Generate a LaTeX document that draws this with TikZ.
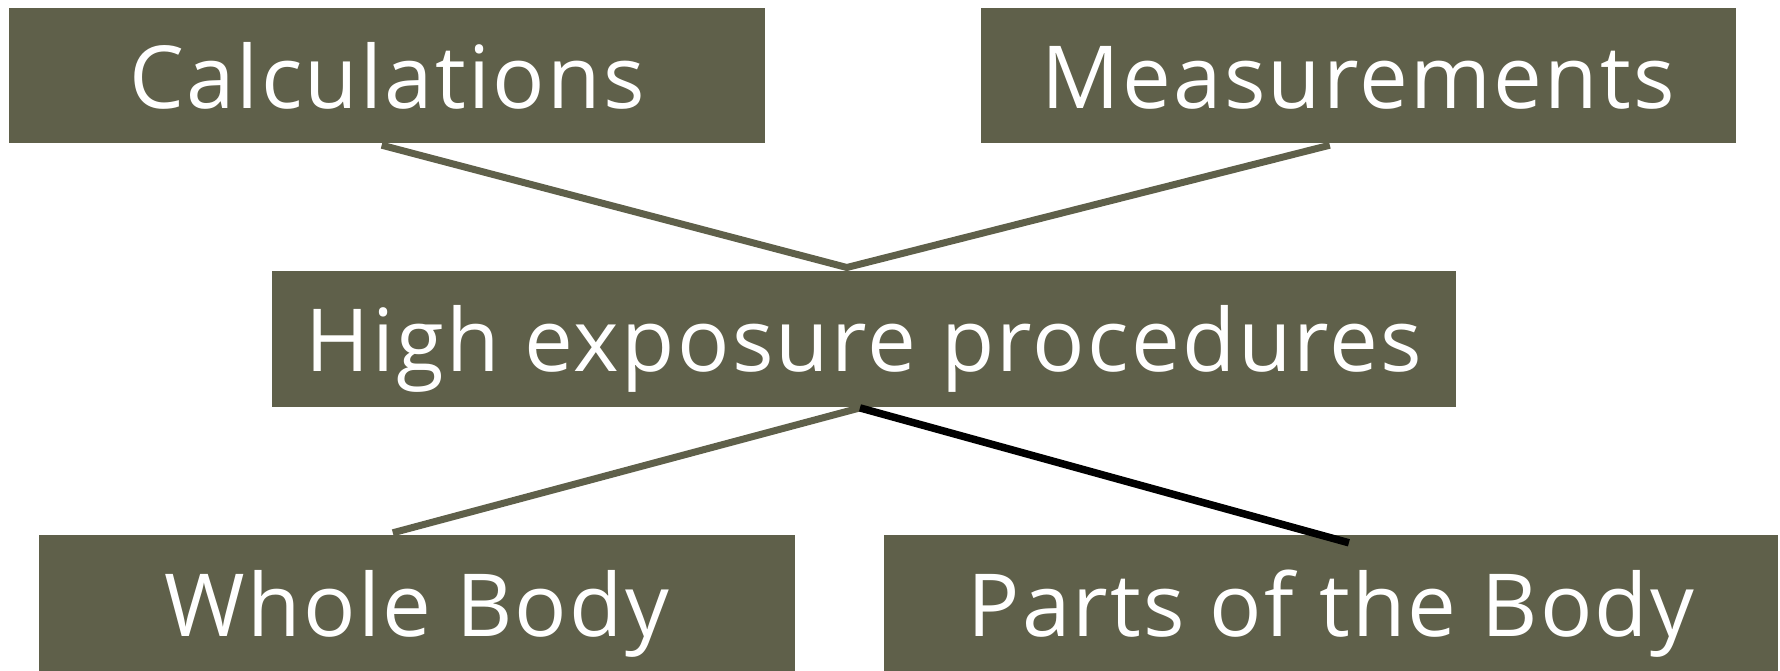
\documentclass[tikz,border=0pt]{standalone}
\usepackage{fontspec}
\setmainfont{Open Sans}[LetterSpace=2.6]
\usetikzlibrary{calc}
\definecolor{boxgreen}{HTML}{5F604A}
\tikzset{
  box/.style={fill=boxgreen, draw=none, text=white, inner sep=0pt, anchor=center,
    text height=66pt, text depth=0pt,
    font=\fontsize{87}{100}\selectfont},
  link/.style={draw=boxgreen, line width=7pt},
  blacklink/.style={draw=black, line width=7.5pt}
}
\begin{document}
\begin{tikzpicture}[x=1pt,y=1pt]
\useasboundingbox (0,0) rectangle (1780,-671);
\node[box, minimum width=756pt, minimum height=135pt] (calc) at (387,-75.5) {Calculations};
\node[box, minimum width=755pt, minimum height=135pt] (meas) at (1358.5,-75.5) {Measurements};
\node[box, minimum width=1184pt, minimum height=136pt] (high) at (864,-338.7) {High exposure procedures};
\node[box, minimum width=756pt, minimum height=136pt] (whole) at (417,-603) {Whole Body};
\node[box, minimum width=894pt, minimum height=136pt] (parts) at (1331,-603) {Parts of the Body};
\coordinate (c1) at ($(calc.south west)!0.493!(calc.south east)+(0,-2)$);
\coordinate (m1) at ($(meas.south west)!0.462!(meas.south east)+(0,-2)$);
\coordinate (h1) at ($(high.north west)!0.4855!(high.north east)+(0,3)$);
\coordinate (h2) at ($(high.south west)!0.4966!(high.south east)+(0,-1)$);
\coordinate (w1) at ($(whole.north west)!0.468!(whole.north east)+(0,2)$);
\coordinate (p1) at ($(parts.north west)!0.52!(parts.north east)+(0,-8)$);
\draw[link] (c1) -- (h1) -- (m1);
\draw[link] (w1) -- (h2);
\draw[blacklink] (h2) -- (p1);
\end{tikzpicture}
\end{document}
